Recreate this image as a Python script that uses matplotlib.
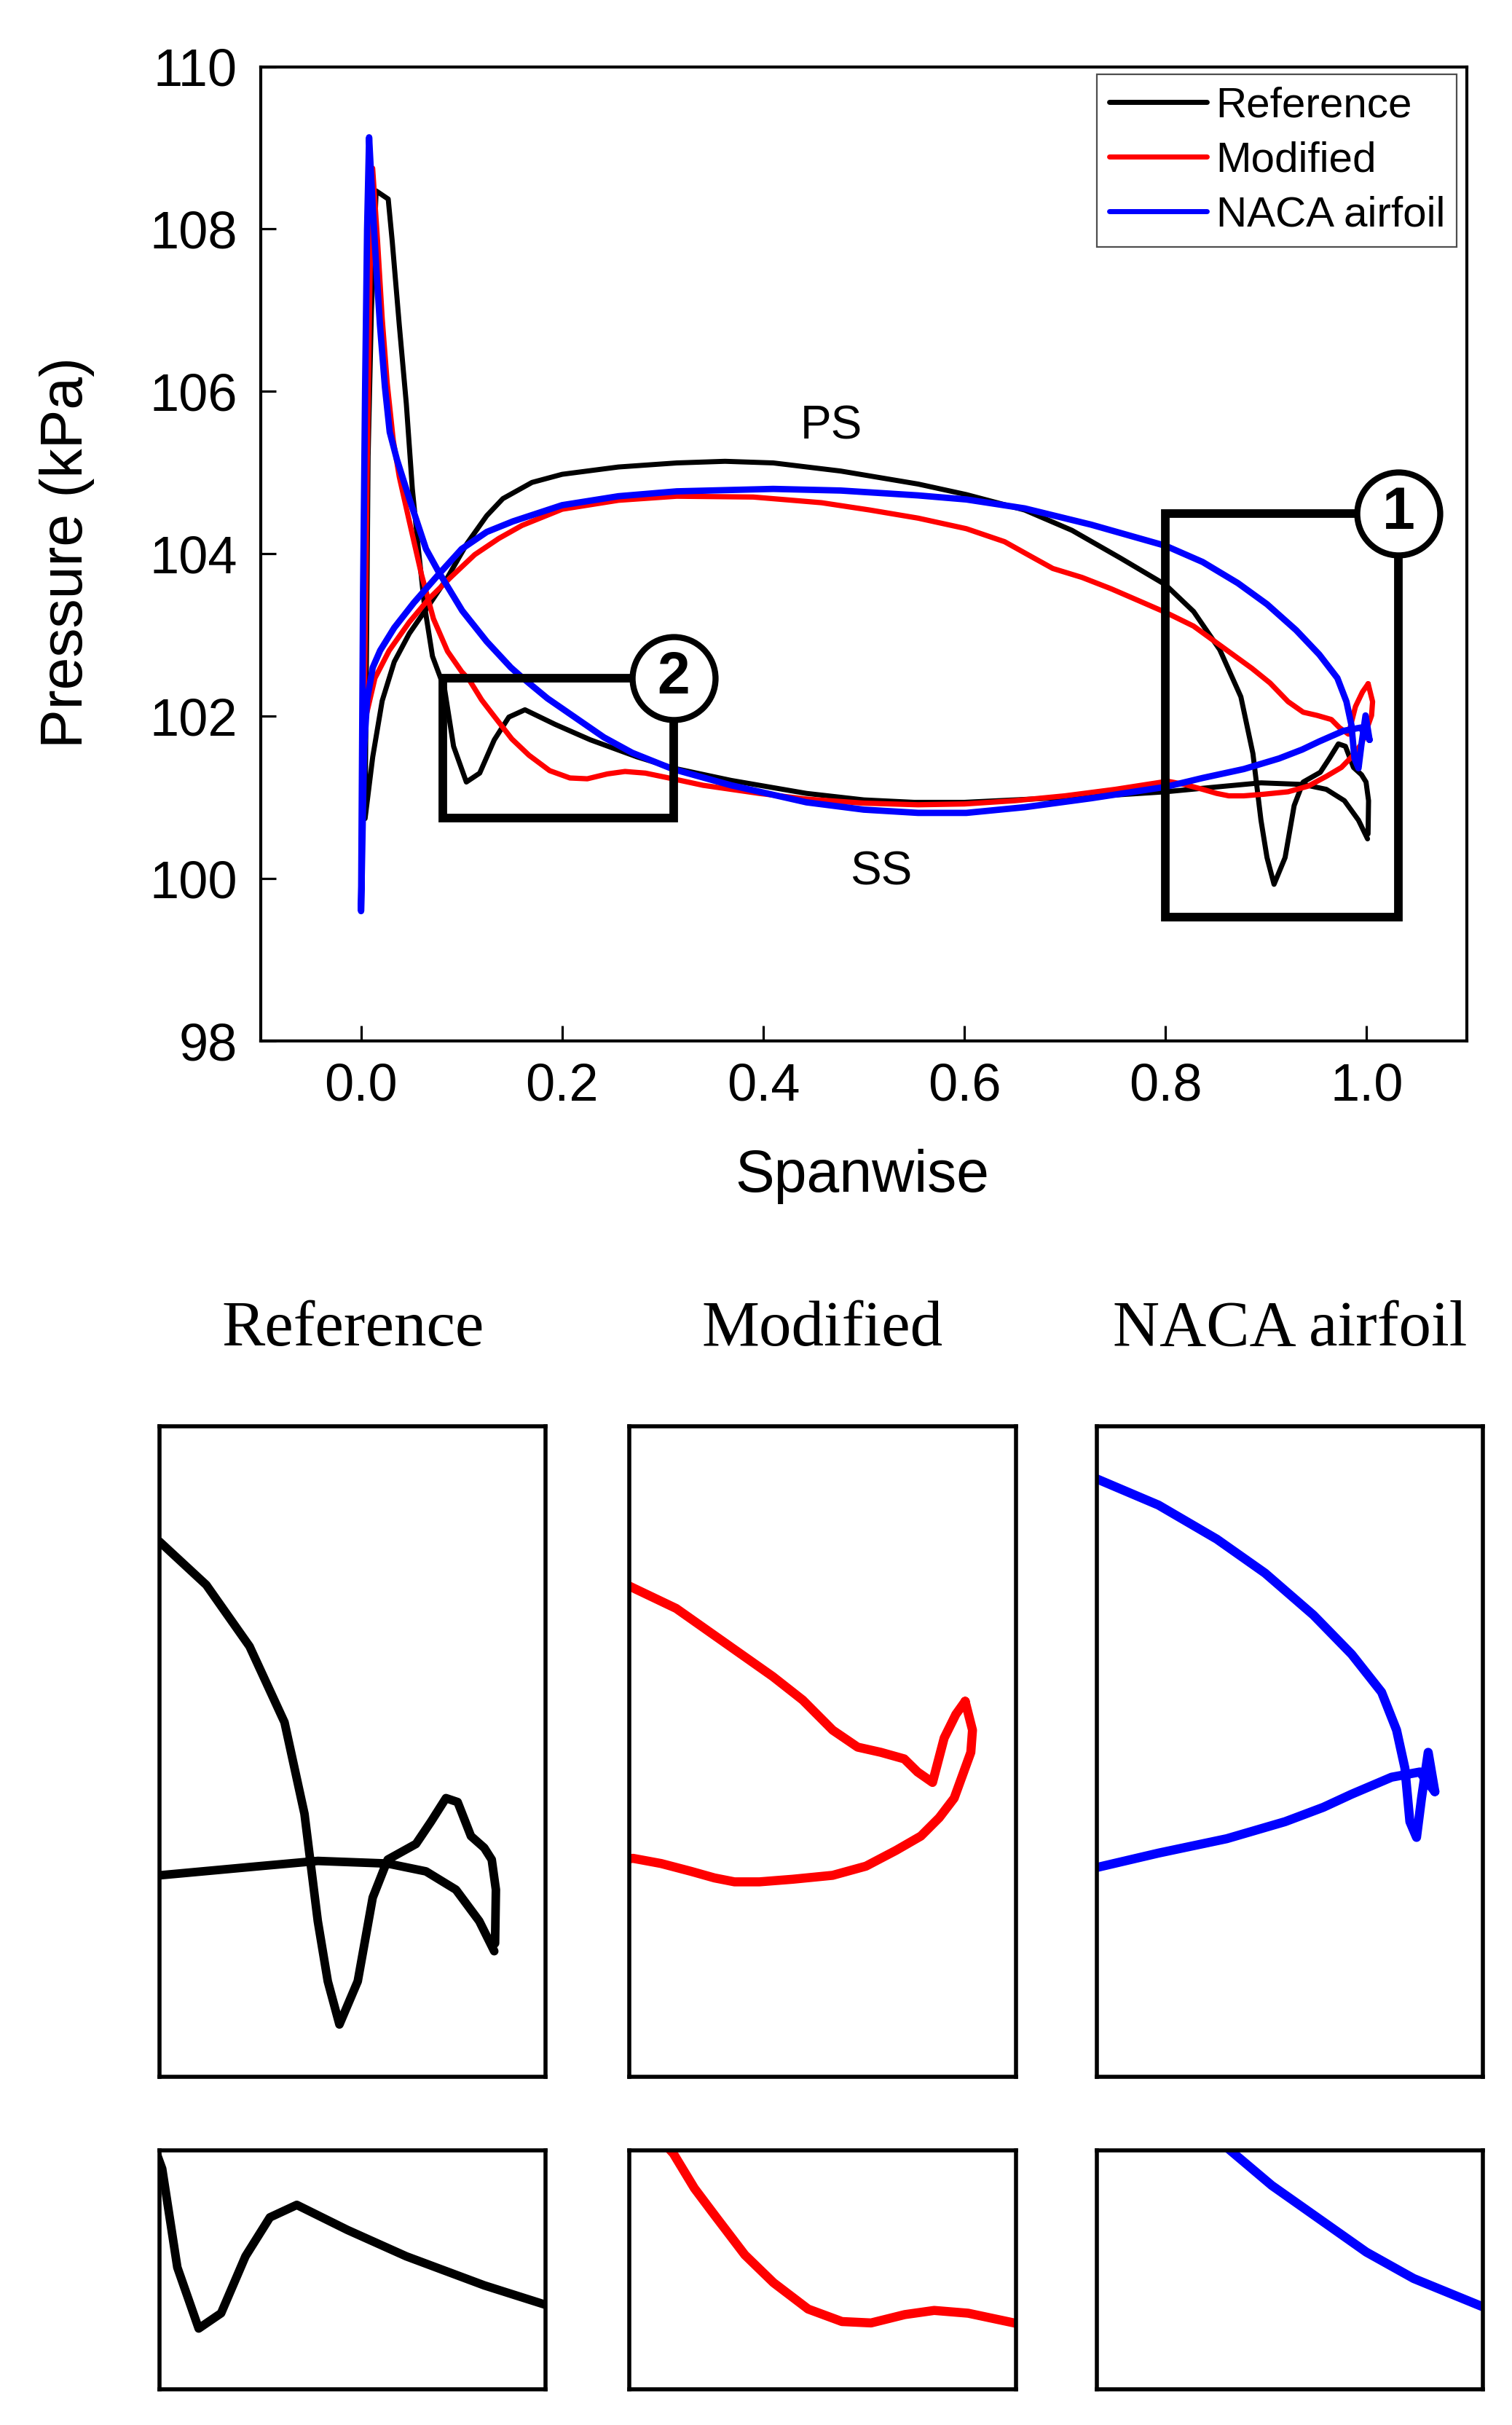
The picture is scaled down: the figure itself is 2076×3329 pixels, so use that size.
import matplotlib
matplotlib.use('Agg')
import matplotlib.pyplot as plt
from matplotlib.patches import Rectangle

plt.rcParams['font.family'] = ['Liberation Sans', 'DejaVu Sans']

# ---------------- data ----------------
series_names = ['Reference', 'Modified', 'NACA airfoil']
series_colors = ['#000000', '#ff0000', '#0000ff']

# Reference: pressure side (LE -> TE)
ref_ps_x = [0.004, 0.0116, 0.021, 0.033, 0.048, 0.067, 0.086, 0.1055, 0.125, 0.141, 0.17, 0.2,
            0.256, 0.314, 0.362, 0.41, 0.477, 0.554, 0.602, 0.66, 0.707, 0.755, 0.8, 0.828,
            0.854, 0.875, 0.887, 0.895, 0.901, 0.908, 0.919, 0.928, 0.937, 0.954, 0.963,
            0.972, 0.979, 0.987, 0.995, 0.9995, 1.002, 1.0015]
ref_ps_y = [100.74, 101.5, 102.19, 102.67, 103.02, 103.36, 103.71, 104.13, 104.47, 104.68, 104.88,
            104.98, 105.07, 105.12, 105.14, 105.12, 105.02, 104.86, 104.73, 104.54, 104.29,
            103.95, 103.62, 103.29, 102.82, 102.24, 101.54, 100.72, 100.26, 99.93, 100.26,
            100.9, 101.19, 101.31, 101.48, 101.66, 101.63, 101.37, 101.28, 101.19, 100.96, 100.55]
# Reference: suction side (LE -> TE)
ref_ss_x = [0.007, 0.0103, 0.015, 0.027, 0.031, 0.038, 0.045, 0.051, 0.057, 0.063, 0.071, 0.083,
            0.092, 0.1047, 0.118, 0.1325, 0.147, 0.163, 0.193, 0.228, 0.2745, 0.311, 0.368,
            0.443, 0.5, 0.55, 0.6, 0.65, 0.7, 0.75, 0.8, 0.86, 0.895, 0.937, 0.96, 0.978,
            0.992, 1.001]
ref_ss_y = [105.2, 107.0, 108.47, 108.37, 107.85, 106.82, 105.85, 104.8, 104.06, 103.37, 102.74,
            102.34, 101.63, 101.19, 101.3, 101.71, 101.99, 102.08, 101.9, 101.71, 101.5, 101.36,
            101.21, 101.05, 100.97, 100.94, 100.94, 100.97, 101.0, 101.03, 101.07, 101.14,
            101.18, 101.16, 101.1, 100.96, 100.72, 100.49]

# Modified: pressure side (LE -> TE)
mod_ps_x = [0.003, 0.0138, 0.028, 0.048, 0.067, 0.089, 0.113, 0.137, 0.16, 0.2, 0.256, 0.314,
            0.39, 0.458, 0.506, 0.554, 0.602, 0.64, 0.669, 0.688, 0.717, 0.746, 0.774, 0.8,
            0.828, 0.857, 0.886, 0.904, 0.922, 0.937, 0.951, 0.965, 0.973, 0.982, 0.989,
            0.996, 1.0016]
mod_ps_y = [101.9, 102.47, 102.81, 103.16, 103.44, 103.71, 103.99, 104.19, 104.35, 104.55,
            104.66, 104.71, 104.7, 104.63, 104.54, 104.44, 104.31, 104.15, 103.95, 103.82,
            103.71, 103.57, 103.42, 103.28, 103.11, 102.85, 102.59, 102.41, 102.18, 102.05,
            102.01, 101.96, 101.86, 101.78, 102.12, 102.3, 102.4]
# Modified: suction side (LE -> TE)
mod_ss_x = [0.006, 0.009, 0.0115, 0.0164, 0.021, 0.026, 0.032, 0.038, 0.048, 0.06, 0.072, 0.086,
            0.1, 0.1075, 0.12, 0.1324, 0.15, 0.167, 0.1876, 0.2077, 0.225, 0.245, 0.2625,
            0.2827, 0.31, 0.34, 0.396, 0.443, 0.5, 0.554, 0.6, 0.65, 0.7, 0.75, 0.802, 0.819,
            0.837, 0.851, 0.863, 0.878, 0.898, 0.922, 0.942, 0.96, 0.975, 0.986, 0.995, 1.005,
            1.006, 1.0016]
mod_ss_y = [105.0, 107.5, 108.75, 107.85, 106.9, 106.1, 105.4, 104.95, 104.4, 103.75, 103.2,
            102.8, 102.55, 102.45, 102.2, 102.0, 101.72, 101.52, 101.33, 101.24, 101.23, 101.29,
            101.32, 101.3, 101.23, 101.15, 101.05, 100.98, 100.93, 100.91, 100.92, 100.96,
            101.02, 101.1, 101.2, 101.16, 101.1, 101.05, 101.02, 101.02, 101.04, 101.07,
            101.14, 101.26, 101.37, 101.51, 101.66, 102.01, 102.18, 102.4]

# NACA airfoil: pressure side (LE -> TE)
naca_ps_x = [0.0, 0.003, 0.006, 0.0116, 0.019, 0.033, 0.0526, 0.0766, 0.1, 0.125, 0.151, 0.2,
             0.256, 0.314, 0.41, 0.477, 0.554, 0.602, 0.66, 0.726, 0.8, 0.837, 0.872, 0.901,
             0.93, 0.953, 0.971, 0.98, 0.985, 0.988, 0.992, 0.995, 0.999, 1.003]
naca_ps_y = [99.6, 101.6, 102.2, 102.6, 102.81, 103.09, 103.4, 103.74, 104.06, 104.27, 104.4,
             104.6, 104.71, 104.77, 104.8, 104.78, 104.72, 104.67, 104.56, 104.36, 104.1,
             103.9, 103.64, 103.38, 103.06, 102.76, 102.47, 102.18, 101.89, 101.48, 101.36,
             101.66, 102.01, 101.71]
# NACA airfoil: suction side (LE -> TE)
naca_ss_x = [0.002, 0.004, 0.006, 0.008, 0.0116, 0.0152, 0.0188, 0.0237, 0.0285, 0.0357, 0.048,
             0.0646, 0.0766, 0.1006, 0.125, 0.149, 0.16, 0.1854, 0.2135, 0.2416, 0.2697, 0.31,
             0.368, 0.443, 0.5, 0.554, 0.602, 0.66, 0.726, 0.8, 0.837, 0.878, 0.913, 0.936,
             0.953, 0.977, 0.994, 1.003]
naca_ss_y = [103.5, 106.0, 108.0, 109.13, 108.27, 107.51, 106.82, 106.06, 105.5, 105.16, 104.68,
             104.06, 103.79, 103.3, 102.92, 102.6, 102.48, 102.22, 101.98, 101.74, 101.55,
             101.35, 101.15, 100.94, 100.85, 100.81, 100.81, 100.88, 100.99, 101.13, 101.24,
             101.35, 101.48, 101.59, 101.69, 101.82, 101.86, 101.71]

x_ticks = [0.0, 0.2, 0.4, 0.6, 0.8, 1.0]
y_ticks = [98, 100, 102, 104, 106, 108, 110]

# zoom regions (x0, x1, y0, y1)
region1 = (0.8, 1.032, 99.53, 104.5)
region2 = (0.0815, 0.311, 100.75, 102.47)


def loop(psx, psy, ssx, ssy):
    return list(psx[::-1]) + list(ssx), list(psy[::-1]) + list(ssy)


curves = [loop(ref_ps_x, ref_ps_y, ref_ss_x, ref_ss_y),
          loop(mod_ps_x, mod_ps_y, mod_ss_x, mod_ss_y),
          loop(naca_ps_x, naca_ps_y, naca_ss_x, naca_ss_y)]
main_lw = [5.0, 5.2, 6.3]
inset_lw = [8.5, 9.0, 9.0]

# ---------------- figure ----------------
fig = plt.figure(figsize=(20.76, 33.29), dpi=100)

ax = fig.add_axes([0.1723, 0.5707, 0.798, 0.4018])
for (cx, cy), name, col, lw in zip(curves, series_names, series_colors, main_lw):
    ax.plot(cx, cy, color=col, lw=lw, label=name, zorder=3,
            solid_joinstyle='round', solid_capstyle='round')

ax.set_xlim(-0.1, 1.1)
ax.set_ylim(98, 110)
ax.set_xticks(x_ticks)
ax.set_xticklabels([f'{v:.1f}' for v in x_ticks])
ax.set_yticks(y_ticks)
ax.set_yticklabels([str(v) for v in y_ticks])
ax.tick_params(axis='both', direction='in', length=15, width=2.3, labelsize=52)
ax.tick_params(axis='x', pad=21)
ax.tick_params(axis='y', pad=23)
for sp in ax.spines.values():
    sp.set_linewidth(3)

leg = ax.legend(loc='upper right', bbox_to_anchor=(0.9915, 0.992), borderaxespad=0,
                fontsize=42, handlelength=2.3, handletextpad=0.22, borderpad=0.28,
                labelspacing=0.36, frameon=True, fancybox=False)
leg.get_frame().set_edgecolor('#222222')
leg.get_frame().set_linewidth(1.6)
for h in leg.get_lines():
    h.set_linewidth(5)

ax.text(0.468, 105.57, 'PS', fontsize=46, ha='center', va='center', zorder=5)
ax.text(0.517, 100.08, 'SS', fontsize=46, ha='center', va='center', zorder=5)

for reg, num in [(region1, '1'), (region2, '2')]:
    x0, x1, y0, y1 = reg
    ax.add_patch(Rectangle((x0, y0), x1 - x0, y1 - y0, fill=False, lw=8.5,
                           ec='black', joinstyle='miter', zorder=6))
    ax.plot([x1], [y1], 'o', ms=82, mfc='white', mec='black', mew=6, zorder=7)
    ax.text(x1, y1, num, fontsize=58, fontweight='bold', ha='center', va='center',
            zorder=8)

fig.text(0.5703, 0.515, 'Spanwise', fontsize=58, ha='center', va='center')
fig.text(0.0441, 0.7722, 'Pressure (kPa)', fontsize=58, ha='center', va='center',
         rotation=90)

# ---------------- zoomed panels ----------------
col_left = [0.1056, 0.4164, 0.7255]
col_w = 0.2554
rows = [(0.1436, 0.2681, region1), (0.0146, 0.0985, region2)]

for i, ((cx, cy), name, col) in enumerate(zip(curves, series_names, series_colors)):
    for bottom, height, reg in rows:
        a = fig.add_axes([col_left[i], bottom, col_w, height])
        a.plot(cx, cy, color=col, lw=inset_lw[i], solid_joinstyle='round',
               solid_capstyle='round')
        a.set_xlim(reg[0], reg[1])
        a.set_ylim(reg[2], reg[3])
        a.set_xticks([])
        a.set_yticks([])
        for sp in a.spines.values():
            sp.set_linewidth(4)
    fig.text(col_left[i] + col_w / 2, 0.4517, name, fontsize=64, ha='center',
             va='center', family=['Liberation Serif', 'DejaVu Serif'])

fig.savefig('out.png', dpi=100)
